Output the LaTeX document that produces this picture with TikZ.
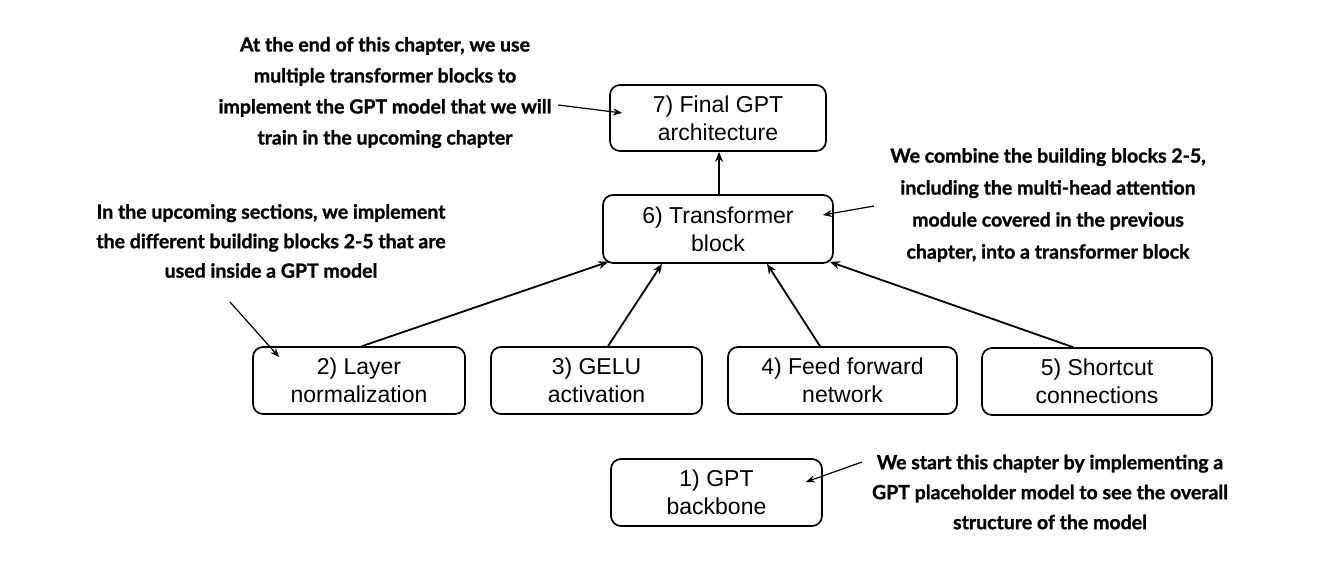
\documentclass[tikz,border=0pt]{standalone}
\usepackage{fontspec}
\setmainfont{Liberation Sans}
\newfontfamily\notefont{Lato}[BoldFeatures={FakeBold=1.2}]
\usetikzlibrary{arrows.meta}
\tikzset{
  box/.style={draw, line width=1.7pt, rounded corners=10pt, minimum height=67pt,
    inner sep=0pt, align=center, font=\fontsize{23}{28}\selectfont},
  note/.style={align=center, inner sep=0pt, font=\notefont\bfseries\fontsize{19.5}{31}\selectfont},
  mainarrow/.style={line width=1.8pt, -{Stealth[length=10pt,width=8pt]}},
  notearrow/.style={line width=1.2pt, -{Stealth[length=9pt,width=7pt]}}
}
\begin{document}
\begin{tikzpicture}[x=1pt,y=-1pt]
\useasboundingbox (0,0) rectangle (1338,574);
\fill[white] (0,0) rectangle (1338,574);
% boxes
\node[box, minimum width=216pt, minimum height=66pt] (b7) at (718,118) {7) Final GPT\\architecture};
\node[box, minimum width=230pt, minimum height=68pt] (b6) at (718,229) {6) Transformer\\block};
\node[box, minimum width=212pt] (b2) at (359,380.5) {2) Layer\\normalization};
\node[box, minimum width=211pt] (b3) at (596.5,380.5) {3) GELU\\activation};
\node[box, minimum width=229pt] (b4) at (842.5,380.5) {4) Feed forward\\network};
\node[box, minimum width=230pt] (b5) at (1097,381.5) {5) Shortcut\\connections};
\node[box, minimum width=211pt] (b1) at (716.5,492.5) {1) GPT\\backbone};
% notes
\node[note] (n7) at (385,92.5) {At the end of this chapter, we use\\multiple transformer blocks to\\implement the GPT model that we will\\train in the upcoming chapter};
\node[note, font=\notefont\bfseries\fontsize{19.5}{29.5}\selectfont] (n2) at (271,241) {In the upcoming sections, we implement\\the different building blocks 2-5 that are\\used inside a GPT model};
\node[note, font=\notefont\bfseries\fontsize{19.5}{32}\selectfont] (n6) at (1048,205) {We combine the building blocks 2-5,\\including the multi-head attention\\module covered in the previous\\chapter, into a transformer block};
\node[note, font=\notefont\bfseries\fontsize{19.5}{30}\selectfont] (n1) at (1050,492) {We start this chapter by implementing a\\GPT placeholder model to see the overall\\structure of the model};
% main arrows
\draw[mainarrow] ([xshift=3pt]b2.north) -- ([xshift=6pt,yshift=2pt]b6.south west);
\draw[mainarrow] ([xshift=11.5pt]b3.north) -- ([xshift=-56pt]b6.south);
\draw[mainarrow] ([xshift=-22.5pt]b4.north) -- ([xshift=49pt]b6.south);
\draw[mainarrow] ([xshift=-24pt]b5.north) -- ([xshift=-4pt,yshift=2pt]b6.south east);
\draw[mainarrow] ([xshift=1pt]b6.north) -- ([xshift=1pt]b7.south);
% note arrows
\coordinate (s7) at (558,105);
\coordinate (s6) at (874,206);
\coordinate (s2) at (230,302);
\coordinate (s1) at (862,462);
\draw[notearrow] (s7) -- ([xshift=13pt,yshift=5pt]b7.west);
\draw[notearrow] (s6) -- ([xshift=-11pt,yshift=14pt]b6.east);
\draw[notearrow] (s2) -- ([xshift=27pt,yshift=-11pt]b2.north west);
\draw[notearrow] (s1) -- ([xshift=-17pt,yshift=10.5pt]b1.east);
\end{tikzpicture}
\end{document}
